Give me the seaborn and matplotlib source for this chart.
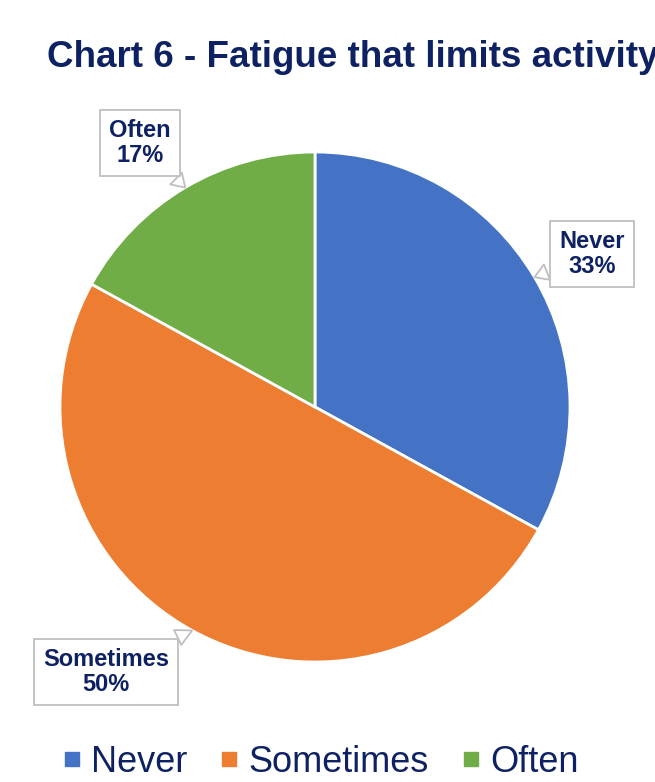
import matplotlib
matplotlib.use("Agg")
import matplotlib.pyplot as plt
from matplotlib.lines import Line2D
import numpy as np
import seaborn as sns

# data
categories = ["Never", "Sometimes", "Often"]
shares = [33, 50, 17]
colors = ["#4472C4", "#ED7D31", "#70AD47"]
title = "Chart 6 - Fatigue that limits activity"

navy = "#0E2163"

sns.set_theme(style="white")
plt.rcParams["font.family"] = ["Liberation Sans", "DejaVu Sans"]

fig = plt.figure(figsize=(6.55, 7.82), dpi=100)
ax = fig.add_axes([60 / 655, 120 / 782, 510 / 655, 510 / 782])

wedges, _ = ax.pie(shares, colors=colors, startangle=90, counterclock=False,
                   radius=1.0, wedgeprops=dict(edgecolor="white", linewidth=2))
ax.set_xlim(-1, 1)
ax.set_ylim(-1, 1)
ax.axis("off")

# callout label positions (data coords of label box centres)
label_pos = {"Never": (1.086, 0.60), "Sometimes": (-0.82, -1.04), "Often": (-0.686, 1.035)}

total = sum(shares)
for w, cat, val in zip(wedges, categories, shares):
    mid = np.deg2rad((w.theta1 + w.theta2) / 2)
    tip = (np.cos(mid), np.sin(mid))
    ax.annotate(f"{cat}\n{round(100 * val / total)}%", xy=tip, xytext=label_pos[cat],
                ha="center", va="center", fontsize=17, fontweight="bold", color=navy,
                linespacing=1.1, annotation_clip=False,
                bbox=dict(boxstyle="square,pad=0.38", fc="white", ec="#BFBFBF", lw=1.3),
                arrowprops=dict(arrowstyle="wedge,tail_width=0.7", fc="white", ec="#BFBFBF",
                                lw=1.3, shrinkB=0))

fig.text(47 / 655, 1 - 67 / 782, title, ha="left", va="baseline",
         fontsize=26.5, fontweight="bold", color=navy)

handles = [Line2D([0], [0], marker="s", linestyle="none", markersize=10.5,
                  markerfacecolor=c, markeredgecolor=c) for c in colors]
fig.legend(handles, categories, loc="center", bbox_to_anchor=(321 / 655, 1 - 762 / 782),
           ncol=3, frameon=False, fontsize=26, labelcolor=navy,
           handlelength=0.45, handletextpad=0.3, columnspacing=0.95)

fig.savefig("out.png", dpi=100)
